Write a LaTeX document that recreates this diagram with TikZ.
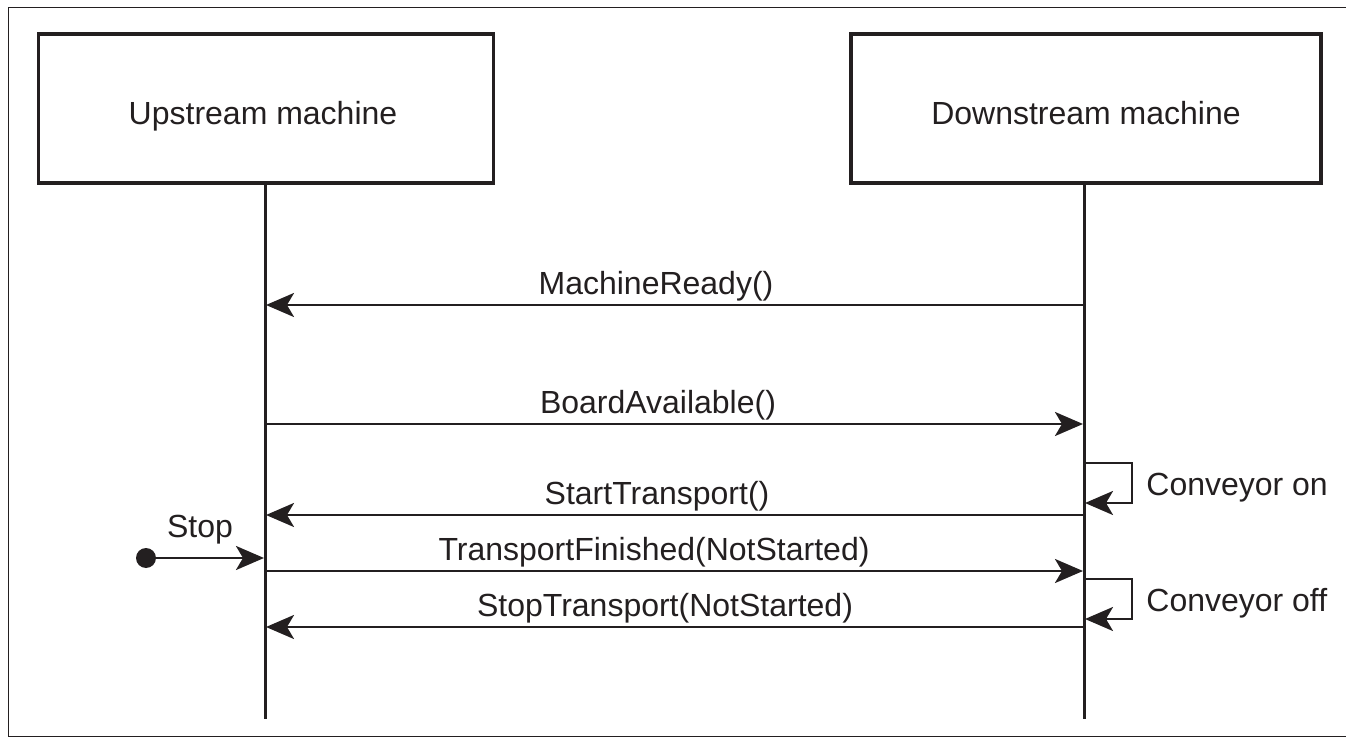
\documentclass[tikz,border=0pt]{standalone}
\usepackage{fontspec}
\setmainfont{Liberation Sans}
\usetikzlibrary{arrows.meta}
\definecolor{ink}{HTML}{231F20}
\begin{document}
\begin{tikzpicture}[x=0.5pt,y=-0.5pt,
  font=\fontsize{16}{19}\selectfont, color=ink,
  frame/.style={line width=0.8pt},
  machine/.style={draw, line width=1.9pt, minimum height=74.5pt, inner sep=0pt},
  life/.style={line width=1.5pt},
  msg/.style={line width=1.4pt, -{Stealth[length=14pt,width=12pt,inset=3.5pt]}},
  lbl/.style={inner sep=0pt, anchor=base},
  side/.style={inner sep=0pt, anchor=base west}]
\useasboundingbox (0,0) rectangle (1346,738);
% outer frame (open on the right)
\draw[frame] (1346,7.5) -- (8.5,7.5) -- (8.5,736.5) -- (1346,736.5);

% participants
\node[machine, minimum width=227.5pt] (up) at (266,108.5) {};
\node[machine, minimum width=235pt] (down) at (1086,108.5) {};
\node[lbl] (uptxt) at (263,125) {Upstream machine};
\node[lbl] (downtxt) at (1086,125) {Downstream machine};

% lifelines
\coordinate (uend) at (265,719);
\coordinate (dend) at (1084,719);
\draw[life] (up.south -| uend) -- (uend);
\draw[life] (down.south -| dend) -- (dend);

% message anchors on the lifelines
\foreach \n/\y in {1/305, 2/424, 3/515, 4/571, 5/627}{
  \coordinate (u\n) at (266,\y);
  \coordinate (d\n) at (1083,\y);
}

% messages
\draw[msg] (d1) -- (u1);
\node[lbl] (m1) at (656,294) {MachineReady()};
\draw[msg] (u2) -- (d2);
\node[lbl] (m2) at (658,413) {BoardAvailable()};
\draw[msg] (d3) -- (u3);
\node[lbl] (m3) at (657,504) {StartTransport()};
\draw[msg] (u4) -- (d4);
\node[lbl] (m4) at (654,560) {TransportFinished(NotStarted)};
\draw[msg] (d5) -- (u5);
\node[lbl] (m5) at (665,616) {StopTransport(NotStarted)};

% self messages on the downstream lifeline
\coordinate (on1) at (1084,463);
\coordinate (on2) at (1085,503);
\draw[msg] (on1) -- (1132,463) -- (1132,503) -- (on2);
\node[side] (ontxt) at (1146,495) {Conveyor on};
\coordinate (off1) at (1084,579);
\coordinate (off2) at (1085,619);
\draw[msg] (off1) -- (1132,579) -- (1132,619) -- (off2);
\node[side] (offtxt) at (1146,611) {Conveyor off};

% stop trigger
\node[circle, fill=ink, inner sep=0pt, minimum size=10pt] (dot) at (146,558) {};
\coordinate (stopend) at (264,558);
\draw[msg] (dot) -- (stopend);
\node[lbl] (stoptxt) at (200,537) {Stop};
\end{tikzpicture}
\end{document}
